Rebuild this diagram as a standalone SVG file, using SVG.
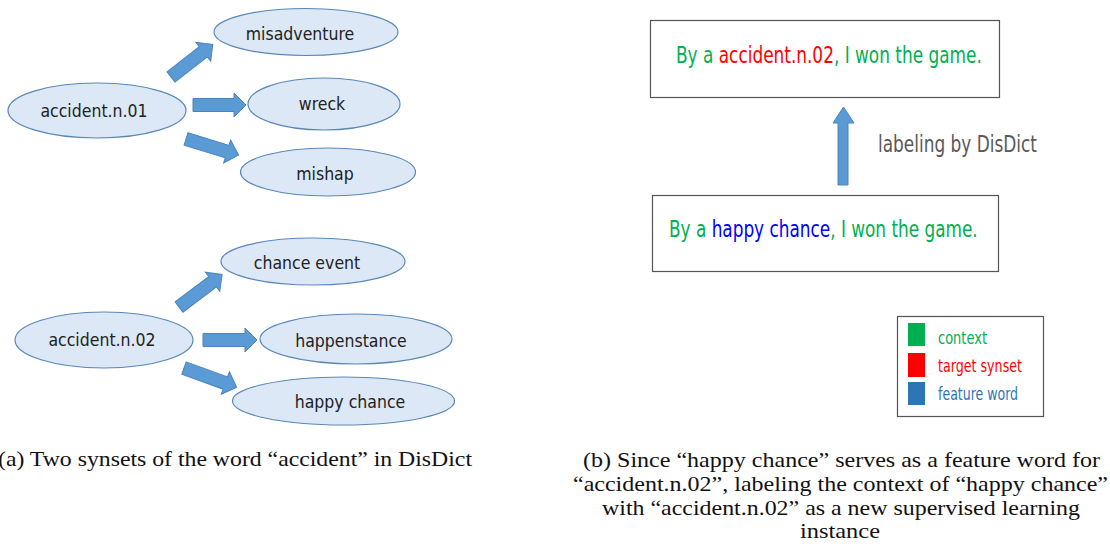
<svg xmlns="http://www.w3.org/2000/svg" width="1110" height="549" viewBox="0 0 1110 549">
<style>
.node ellipse{fill:#dce8f5;stroke:#5b87b8;stroke-width:1.2}
.node text{font-family:"DejaVu Sans Condensed","DejaVu Sans",sans-serif;font-size:17.5px;fill:#222;text-anchor:middle}
.arr{fill:#5b9bd5;stroke:#4a83bd;stroke-width:1}
.box{fill:#fff;stroke:#555;stroke-width:1.2}
.sent{font-family:"DejaVu Sans Condensed","DejaVu Sans",sans-serif;font-size:23px}
.g{fill:#00b050}.r{fill:#ff0000}.b{fill:#0000ff}
.lab{font-family:"DejaVu Sans Condensed","DejaVu Sans",sans-serif;font-size:23px;fill:#595959}
.leg{font-family:"DejaVu Sans Condensed","DejaVu Sans",sans-serif;font-size:17px}
.cap{font-family:"Liberation Serif","Times New Roman",serif;font-size:21px;fill:#111}
</style>
<rect width="1110" height="549" fill="#fff"/>
<g id="connectors">
<polygon class="arr" transform="translate(171,77) rotate(-38)" points="0,-6.5 41,-6.5 41,-12 53,0 41,12 41,6.5 0,6.5"/>
<polygon class="arr" transform="translate(193,105)" points="0,-6.5 41,-6.5 41,-12 53,0 41,12 41,6.5 0,6.5"/>
<polygon class="arr" transform="translate(186,139) rotate(17)" points="0,-6.5 43,-6.5 43,-12 55,0 43,12 43,6.5 0,6.5"/>
<polygon class="arr" transform="translate(179,307) rotate(-37)" points="0,-6.5 42,-6.5 42,-12 54,0 42,12 42,6.5 0,6.5"/>
<polygon class="arr" transform="translate(203,340)" points="0,-6.5 42,-6.5 42,-12 54,0 42,12 42,6.5 0,6.5"/>
<polygon class="arr" transform="translate(184,368) rotate(20)" points="0,-6.5 44,-6.5 44,-12 56,0 44,12 44,6.5 0,6.5"/>
<polygon class="arr" points="838,185 838,123 833,123 843.5,107 854,123 848,123 848,185"/>
</g>
<g id="n-misadventure" class="node"><ellipse cx="306" cy="32" rx="92" ry="23.5"/><text x="300" y="40">misadventure</text></g>
<g id="n-accident01" class="node"><ellipse cx="97" cy="110.5" rx="89" ry="27.5"/><text x="94" y="117">accident.n.01</text></g>
<g id="n-wreck" class="node"><ellipse cx="324" cy="104" rx="76" ry="26"/><text x="322" y="110">wreck</text></g>
<g id="n-mishap" class="node"><ellipse cx="328" cy="172" rx="87.5" ry="24"/><text x="325" y="180">mishap</text></g>
<g id="n-chanceevent" class="node"><ellipse cx="313" cy="261.5" rx="92" ry="23.5"/><text x="307" y="269">chance event</text></g>
<g id="n-accident02" class="node"><ellipse cx="104" cy="340" rx="89" ry="28"/><text x="102" y="346">accident.n.02</text></g>
<g id="n-happenstance" class="node"><ellipse cx="356" cy="339" rx="96" ry="25"/><text x="351" y="347">happenstance</text></g>
<g id="n-happychance" class="node"><ellipse cx="343.5" cy="401" rx="111" ry="24"/><text x="350" y="408">happy chance</text></g>
<g id="box-top"><rect class="box" x="650.5" y="20.5" width="349" height="77"/>
<text class="sent" transform="translate(676,63) scale(0.818,1)"><tspan class="g">By a </tspan><tspan class="r">accident.n.02</tspan><tspan class="g">, I won the game.</tspan></text></g>
<g id="box-bottom"><rect class="box" x="652.5" y="195.5" width="346" height="76"/>
<text class="sent" transform="translate(669,237) scale(0.816,1)"><tspan class="g">By a </tspan><tspan class="b">happy chance</tspan><tspan class="g">, I won the game.</tspan></text></g>
<g id="label"><text class="lab" x="878" y="152" textLength="159" lengthAdjust="spacingAndGlyphs">labeling by DisDict</text></g>
<g id="legend"><rect class="box" x="897.5" y="316.5" width="146" height="100"/>
<rect x="908" y="323" width="17" height="23" fill="#00b050"/>
<rect x="908" y="353" width="17" height="24" fill="#ff0000"/>
<rect x="908" y="382" width="17" height="23" fill="#2e75b6"/>
<text class="leg" x="938" y="344" fill="#00b050" textLength="49" lengthAdjust="spacingAndGlyphs">context</text>
<text class="leg" x="938" y="372" fill="#ff0000" textLength="84" lengthAdjust="spacingAndGlyphs">target synset</text>
<text class="leg" x="938" y="400" fill="#2e75b6" textLength="80" lengthAdjust="spacingAndGlyphs">feature word</text></g>
<g id="captions">
<text class="cap" x="-2" y="466" textLength="474" lengthAdjust="spacingAndGlyphs">(a) Two synsets of the word “accident” in DisDict</text>
<text class="cap" x="583" y="467" textLength="517" lengthAdjust="spacingAndGlyphs">(b) Since “happy chance” serves as a feature word for</text>
<text class="cap" x="573" y="491" textLength="535" lengthAdjust="spacingAndGlyphs">“accident.n.02”, labeling the context of “happy chance”</text>
<text class="cap" x="602" y="515" textLength="478" lengthAdjust="spacingAndGlyphs">with “accident.n.02” as a new supervised learning</text>
<text class="cap" x="800" y="538" textLength="80" lengthAdjust="spacingAndGlyphs">instance</text>
</g>
</svg>
